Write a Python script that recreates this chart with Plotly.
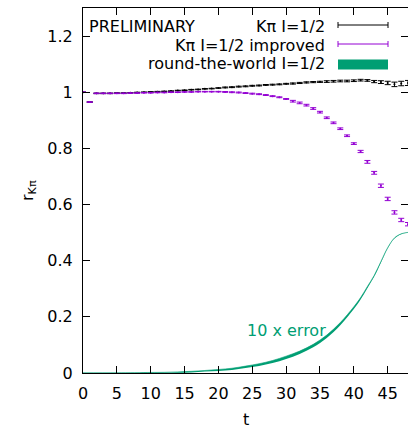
import plotly.graph_objects as go

FONT = "DejaVu Sans"
BLACK = "#000000"
PURPLE = "#9400d3"
GREEN = "#009e73"

t = list(range(0, 49))

kpi = [1.000, 0.965, 0.996, 0.996, 0.996, 0.997, 0.997, 0.998, 0.999, 1.000,
       1.001, 1.002, 1.003, 1.004, 1.006, 1.007, 1.009, 1.010, 1.012, 1.013,
       1.015, 1.017, 1.018, 1.020, 1.021, 1.023, 1.024, 1.026, 1.027, 1.028,
       1.030, 1.031, 1.033, 1.035, 1.036, 1.037, 1.038, 1.039, 1.040, 1.040,
       1.041, 1.043, 1.042, 1.038, 1.036, 1.033, 1.028, 1.031, 1.033]
kpi_err = [0.001] * 21 + [0.0015] * 10 + [0.002] * 5 + [0.003] * 7 + \
          [0.004, 0.005, 0.006, 0.008, 0.008, 0.009]

kpi_imp = [1.000, 0.965, 0.996, 0.996, 0.996, 0.996, 0.996, 0.997, 0.997, 0.998,
           0.998, 0.999, 0.999, 1.000, 1.000, 1.001, 1.001, 1.002, 1.002, 1.002,
           1.002, 1.001, 1.000, 0.999, 0.997, 0.995, 0.993, 0.990, 0.986, 0.982,
           0.976, 0.968, 0.962, 0.954, 0.942, 0.929, 0.909, 0.891, 0.870, 0.845,
           0.817, 0.789, 0.752, 0.713, 0.667, 0.620, 0.572, 0.545, 0.530]
kpi_imp_err = [0.001] * 21 + [0.0015] * 10 + [0.003] * 10 + \
              [0.004, 0.005, 0.005, 0.006, 0.006, 0.006, 0.006, 0.006]

rtw_t = [0, 5, 10, 12, 14, 16, 18, 20, 22, 24, 26, 28, 30, 32, 34, 36, 38, 40,
         41, 42, 43, 44, 45, 46, 47, 48]
rtw = [0.0, 0.0002, 0.001, 0.0015, 0.0025, 0.004, 0.007, 0.010, 0.014, 0.021,
       0.029, 0.040, 0.055, 0.073, 0.097, 0.130, 0.175, 0.232, 0.265, 0.305,
       0.345, 0.395, 0.445, 0.480, 0.495, 0.500]
rtw_err10 = [0.0005, 0.0005, 0.001, 0.001, 0.0015, 0.002, 0.002, 0.0025, 0.003,
             0.0035, 0.004, 0.0045, 0.005, 0.005, 0.005, 0.005, 0.0045, 0.004,
             0.0035, 0.003, 0.0025, 0.002, 0.0015, 0.001, 0.0008, 0.0008]

x_ticks = [0, 5, 10, 15, 20, 25, 30, 35, 40, 45]
y_ticks = [0, 0.2, 0.4, 0.6, 0.8, 1.0, 1.2]
y_ticktext = ["0", "0.2", "0.4", "0.6", "0.8", "1", "1.2"]

fig = go.Figure()

fig.add_trace(go.Scatter(
    x=t, y=kpi, mode="markers",
    marker=dict(color=BLACK, size=2),
    error_y=dict(type="data", array=kpi_err, color=BLACK, thickness=1, width=3),
    showlegend=False))

fig.add_trace(go.Scatter(
    x=t, y=kpi_imp, mode="markers",
    marker=dict(color=PURPLE, size=2),
    error_y=dict(type="data", array=kpi_imp_err, color=PURPLE, thickness=1, width=3),
    showlegend=False))

lower = [v - e for v, e in zip(rtw, rtw_err10)]
upper = [v + e for v, e in zip(rtw, rtw_err10)]
fig.add_trace(go.Scatter(x=rtw_t, y=lower, mode="lines", line=dict(width=0, color=GREEN),
                         line_shape="spline", showlegend=False, hoverinfo="skip"))
fig.add_trace(go.Scatter(x=rtw_t, y=upper, mode="lines", line=dict(width=0.6, color=GREEN),
                         line_shape="spline", fill="tonexty", fillcolor=GREEN,
                         showlegend=False))

# legend (gnuplot style, drawn manually)
L = 83
W = 325
H = 365
B = 373


def px(xp):
    return (xp - L) / W


def py(yp):
    return (B - yp) / H


ann = [
    dict(text="PRELIMINARY", x=px(87), y=py(26.7), xanchor="left"),
    dict(text="Kπ I=1/2", x=px(327), y=py(26.7), xanchor="right"),
    dict(text="Kπ I=1/2 improved", x=px(327), y=py(45), xanchor="right"),
    dict(text="round-the-world I=1/2", x=px(327), y=py(63.5), xanchor="right"),
]
annotations = []
for a in ann:
    annotations.append(dict(xref="paper", yref="paper", yanchor="middle",
                            showarrow=False, font=dict(family=FONT, size=16, color=BLACK),
                            **a))
annotations.append(dict(xref="paper", yref="paper", x=px(16), y=0.5, textangle=-90,
                        text="r<sub>Kπ</sub>", showarrow=False,
                        font=dict(family=FONT, size=16, color=BLACK)))
annotations.append(dict(xref="paper", yref="paper", x=0.5, y=py(419), yanchor="middle",
                        text="t", showarrow=False,
                        font=dict(family=FONT, size=16, color=BLACK)))
annotations.append(dict(xref="paper", yref="paper", x=px(328), y=py(330), xanchor="right",
                        yanchor="middle", text="10 x error", showarrow=False,
                        font=dict(family=FONT, size=16, color=GREEN)))

shapes = []
for yy, col in [(25, BLACK), (44, PURPLE)]:
    shapes.append(dict(type="line", xref="paper", yref="paper", x0=px(338), x1=px(388),
                       y0=py(yy), y1=py(yy), line=dict(color=col, width=1)))
    for xx in (338, 388):
        shapes.append(dict(type="line", xref="paper", yref="paper", x0=px(xx), x1=px(xx),
                           y0=py(yy - 3), y1=py(yy + 3), line=dict(color=col, width=1)))
shapes.append(dict(type="rect", xref="paper", yref="paper", x0=px(338), x1=px(388),
                   y0=py(59.5), y1=py(69.5), fillcolor=GREEN, line=dict(width=0)))

fig.update_layout(
    width=408, height=428,
    margin=dict(l=83, r=0, t=8, b=55),
    plot_bgcolor="white", paper_bgcolor="white",
    font=dict(family=FONT, size=16, color=BLACK),
    annotations=annotations, shapes=shapes,
    showlegend=False,
)
fig.update_xaxes(range=[0, 48], tickvals=x_ticks, ticks="inside", ticklen=7,
                 tickcolor=BLACK, showline=True, linecolor=BLACK, linewidth=1,
                 mirror="allticks", showgrid=False, zeroline=False,
                 tickfont=dict(family=FONT, size=16, color=BLACK), ticklabelstandoff=6)
fig.update_yaxes(range=[0, 1.3], tickvals=y_ticks, ticktext=y_ticktext, ticks="inside",
                 ticklen=7, tickcolor=BLACK, showline=True, linecolor=BLACK, linewidth=1,
                 mirror="allticks", showgrid=False, zeroline=False,
                 tickfont=dict(family=FONT, size=16, color=BLACK), ticklabelstandoff=6)

fig.write_html("out.html")
